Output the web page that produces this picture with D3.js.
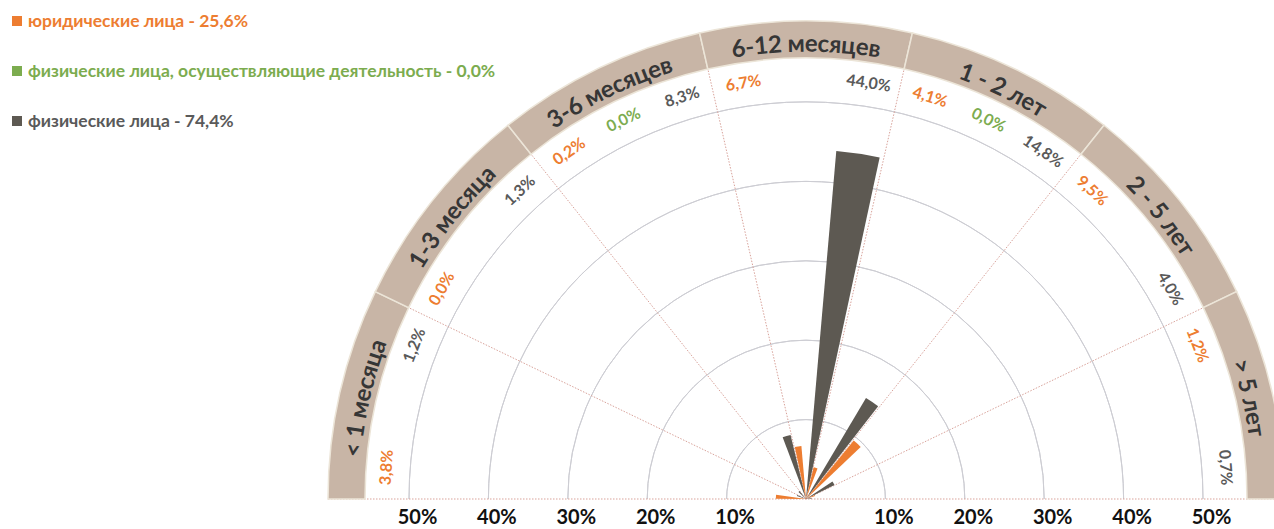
<!DOCTYPE html>
<html>
<head>
<meta charset="utf-8">
<script src="https://cdn.jsdelivr.net/npm/d3@7"></script>
<style>
  body { margin: 0; background: #fff; }
  svg { display: block; font-family: Lato, "Open Sans", sans-serif; }
</style>
</head>
<body>
<div class="term-chart"></div>
<script>
// categories (term buckets), left to right
var categories = ["< 1 месяца", "1-3 месяца", "3-6 месяцев", "6-12 месяцев", "1 - 2 лет", "2 - 5 лет", "> 5 лет"];

// series values, % (null = no data label on the chart)
var legalValues = [3.8, 0.0, 0.2, 6.7, 4.1, 9.5, 1.2];
var entrepreneurValues = [null, null, 0.0, null, 0.0, null, null];
var personValues = [1.2, 1.3, 8.3, 44.0, 14.8, 4.0, 0.7];

// legend
var seriesNames = ["юридические лица", "физические лица, осуществляющие деятельность", "физические лица"];
var seriesTotals = ["25,6%", "0,0%", "74,4%"];
var seriesColors = ["#ed7d31", "#7cac4f", "#5d5952"];
var labelColors = ["#ed7d31", "#7cac4f", "#5a5a5a"];

// tick labels of the flat axis under the half circle
var tickValues = [-50, -40, -30, -20, -10, 10, 20, 30, 40, 50];
var gridValues = [10, 20, 30, 40, 50];

var width = 1274, height = 529,
    cx = 806, cy = 499,
    bandInner = 441, bandOuter = 478,
    labelRadius = 421;

var series = [legalValues, entrepreneurValues, personValues];

var svg = d3.select(".term-chart").append("svg")
    .attr("width", width)
    .attr("height", height);

// value -> radius
var rScale = d3.scaleLinear().domain([0, 50]).range([0, 397]);
// sector index -> angle (d3.arc convention, 0 = up)
var sectorAngle = d3.scaleLinear().domain([0, categories.length]).range([-Math.PI / 2, Math.PI / 2]);
// slot index (3 per sector) -> angle
var slotAngle = d3.scaleLinear().domain([0, categories.length * 3]).range([-Math.PI / 2, Math.PI / 2]);
// flat axis
var xScale = d3.scaleLinear().domain([-50, 50]).range([cx - 397, cx + 397]);

var fmt = function(v) { return d3.format(".1f")(v).replace(".", ",") + "%"; };
var polar = function(rad, a) { return [rad * Math.sin(a), -rad * Math.cos(a)]; };

var g = svg.append("g").attr("transform", "translate(" + cx + "," + cy + ")");

// grid semicircles
g.selectAll(".grid")
    .data(gridValues)
  .enter().append("path")
    .attr("class", "grid")
    .attr("d", function(d) {
        return d3.arc()({innerRadius: rScale(d), outerRadius: rScale(d), startAngle: -Math.PI / 2, endAngle: Math.PI / 2});
    })
    .attr("fill", "none")
    .attr("stroke", "#cdcdd3")
    .attr("stroke-width", 1);

// dotted radial separators
g.selectAll(".spoke")
    .data(d3.range(1, categories.length))
  .enter().append("line")
    .attr("class", "spoke")
    .attr("x1", 0).attr("y1", 0)
    .attr("x2", function(i) { return polar(bandInner, sectorAngle(i))[0]; })
    .attr("y2", function(i) { return polar(bandInner, sectorAngle(i))[1]; })
    .attr("stroke", "#d9a39b")
    .attr("stroke-width", 1)
    .attr("stroke-dasharray", "1.5,1.5");

g.append("line")
    .attr("x1", -bandOuter).attr("x2", bandOuter)
    .attr("y1", 0).attr("y2", 0)
    .attr("stroke", "#d9a39b")
    .attr("stroke-width", 1)
    .attr("stroke-dasharray", "1.5,1.5");

// outer band with category names
var bandArc = d3.arc().innerRadius(bandInner).outerRadius(bandOuter);
g.selectAll(".band")
    .data(categories)
  .enter().append("path")
    .attr("class", "band")
    .attr("d", function(d, i) { return bandArc({startAngle: sectorAngle(i), endAngle: sectorAngle(i + 1)}); })
    .attr("fill", "#c8b5a6")
    .attr("stroke", "#ece5d8")
    .attr("stroke-width", 1.5);

var textR = 456;
g.selectAll(".band-path")
    .data(categories)
  .enter().append("path")
    .attr("class", "band-path")
    .attr("id", function(d, i) { return "bp" + i; })
    .attr("fill", "none")
    .attr("d", function(d, i) {
        var p0 = polar(textR, sectorAngle(i)), p1 = polar(textR, sectorAngle(i + 1));
        return "M" + p0[0] + "," + p0[1] + " A" + textR + "," + textR + " 0 0 1 " + p1[0] + "," + p1[1];
    });

g.selectAll(".band-label")
    .data(categories)
  .enter().append("text")
    .attr("class", "band-label")
    .attr("dy", "0.36em")
    .style("font-size", "24px")
    .style("font-weight", "bold")
    .style("fill", "#363636")
  .append("textPath")
    .attr("href", function(d, i) { return "#bp" + i; })
    .attr("startOffset", "50%")
    .style("text-anchor", "middle")
    .text(function(d) { return d; });

// bars: one wedge per series inside each sector
var bars = [];
categories.forEach(function(c, i) {
    series.forEach(function(vals, j) {
        bars.push({sector: i, s: j, value: vals[i]});
    });
});

var pad = 0.012;
var barArc = d3.arc().innerRadius(0);
g.selectAll(".bar")
    .data(bars.filter(function(d) { return d.value; }))
  .enter().append("path")
    .attr("class", "bar")
    .attr("d", function(d) {
        var k = d.sector * 3 + d.s;
        return barArc({outerRadius: rScale(d.value), startAngle: slotAngle(k) + pad, endAngle: slotAngle(k + 1) - pad});
    })
    .attr("fill", function(d) { return seriesColors[d.s]; });

// data labels under the band
g.selectAll(".value-label")
    .data(bars.filter(function(d) { return d.value !== null; }))
  .enter().append("text")
    .attr("class", "value-label")
    .attr("transform", function(d) {
        var a = slotAngle(d.sector * 3 + d.s + 0.5), p = polar(labelRadius, a);
        return "translate(" + p[0] + "," + p[1] + ") rotate(" + (a * 180 / Math.PI) + ")";
    })
    .attr("text-anchor", "middle")
    .attr("dy", "0.35em")
    .style("font-size", "16px")
    .style("font-weight", "bold")
    .style("fill", function(d) { return labelColors[d.s]; })
    .text(function(d) { return fmt(d.value); });

// flat axis with percent labels
var xAxis = d3.axisBottom(xScale)
    .tickValues(tickValues)
    .tickSize(0)
    .tickPadding(11)
    .tickFormat(function(d) { return Math.abs(d) + "%"; });

svg.append("g")
    .attr("class", "x-axis")
    .attr("transform", "translate(8," + cy + ")")
    .call(xAxis)
    .call(function(ax) { ax.select(".domain").remove(); })
  .selectAll("text")
    .style("font-family", "Lato, sans-serif")
    .style("font-size", "20px")
    .style("font-weight", "bold")
    .style("fill", "#111");

// legend
var legend = svg.selectAll(".legend")
    .data(seriesNames)
  .enter().append("g")
    .attr("class", "legend")
    .attr("transform", function(d, i) { return "translate(12," + (21 + i * 50) + ")"; });

legend.append("rect")
    .attr("x", 0).attr("y", -5)
    .attr("width", 10).attr("height", 10)
    .attr("fill", function(d, i) { return seriesColors[i]; });

legend.append("text")
    .attr("x", 16)
    .attr("dy", "0.35em")
    .style("font-size", "17.5px")
    .style("font-weight", "bold")
    .style("fill", function(d, i) { return labelColors[i]; })
    .text(function(d, i) { return d + " - " + seriesTotals[i]; });
</script>
</body>
</html>
